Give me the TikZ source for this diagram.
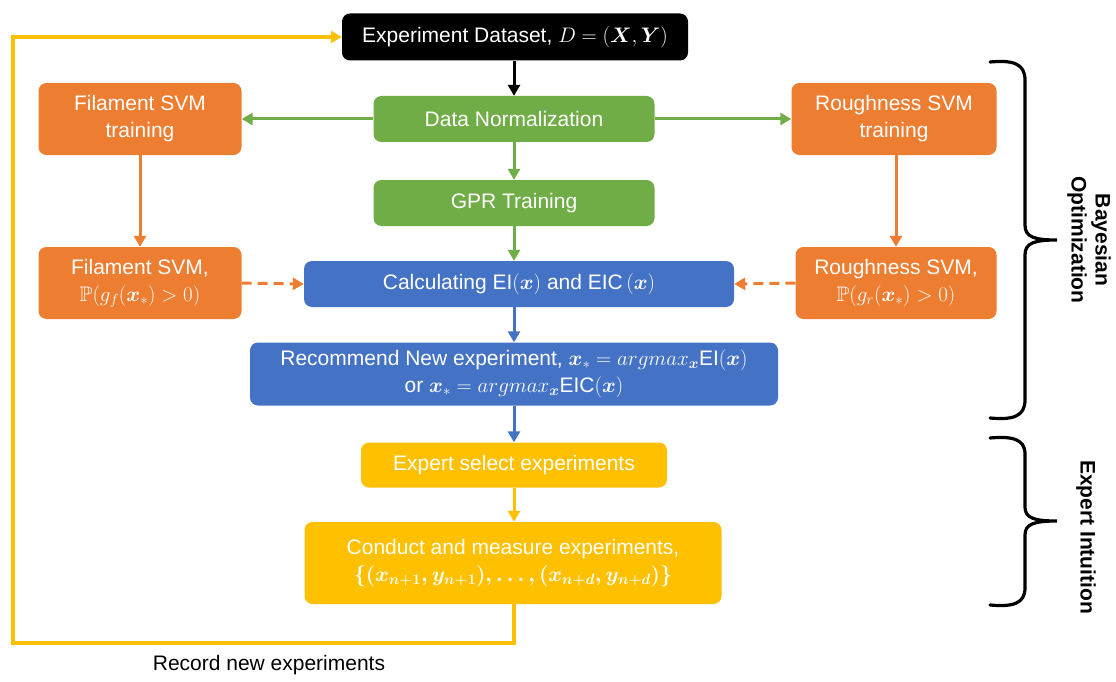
\documentclass[tikz,border=0pt]{standalone}
\usepackage{fix-cm}
\usepackage{amsmath,amssymb}
\usepackage{bm}
\usepackage{fontspec}
\setmainfont{Liberation Sans}
\usetikzlibrary{arrows.meta}
\definecolor{cgreen}{HTML}{70AD47}
\definecolor{cblue}{HTML}{4472C4}
\definecolor{corange}{HTML}{ED7D31}
\definecolor{cyellow}{HTML}{FFC000}
\tikzset{
  box/.style={rounded corners=8pt, text=white, align=center, inner sep=2pt,
    font=\fontsize{21}{27}\selectfont},
  tip/.style={-{Triangle[width=12pt,length=11pt]}},
  brace/.style={line width=3.2pt, black, line cap=round},
  side/.style={font=\bfseries\fontsize{21}{24}\selectfont, rotate=-90, align=center},
}
\begin{document}
\begin{tikzpicture}[x=1pt,y=-1pt]
\useasboundingbox (0,0) rectangle (1116,682);
% nodes
\node[box, fill=black, minimum width=346pt, minimum height=47pt] (ds) at (515,37) {Experiment Dataset, $D=(\bm{X},\bm{Y})$};
\node[box, fill=cgreen, minimum width=281pt, minimum height=46pt] (dn) at (514,119) {Data Normalization};
\node[box, fill=cgreen, minimum width=281pt, minimum height=46pt] (gpr) at (514,203) {GPR Training};
\node[box, fill=cblue, minimum width=430pt, minimum height=46pt] (calc) at (519,284) {Calculating $\mathrm{EI}(\bm{x})$ and $\mathrm{EIC}\,(\bm{x})$};
\node[box, fill=cblue, minimum width=528pt, minimum height=63pt] (rec) at (514,374) {Recommend New experiment, $\bm{x}_{*} = argmax_{\bm{x}}\mathrm{EI}(\bm{x})$\\or $\bm{x}_{*} = argmax_{\bm{x}}\mathrm{EIC}(\bm{x})$};
\node[box, fill=cyellow, minimum width=306pt, minimum height=45pt] (sel) at (514,465) {Expert select experiments};
\node[box, fill=cyellow, minimum width=417pt, minimum height=82pt] (cond) at (513,563) {Conduct and measure experiments,\\{\boldmath$\{(x_{n+1},y_{n+1}),\ldots,(x_{n+d},y_{n+d})\}$}};
\node[box, fill=corange, minimum width=203pt, minimum height=72pt] (ft) at (140,119) {Filament SVM\\training};
\node[box, fill=corange, minimum width=205pt, minimum height=72pt] (rt) at (894,119) {Roughness SVM\\training};
\node[box, fill=corange, minimum width=203pt, minimum height=72pt] (fp) at (140,283) {Filament SVM,\\$\mathbb{P}(g_f(\bm{x}_{*})>0)$};
\node[box, fill=corange, minimum width=201pt, minimum height=72pt] (rp) at (896,283) {Roughness SVM,\\$\mathbb{P}(g_r(\bm{x}_{*})>0)$};
% connectors
\begin{scope}[line width=3pt]
\draw[tip, black] (dn.north |- ds.south) -- (dn.north);
\draw[tip, cgreen] (dn.west) -- (ft.east);
\draw[tip, cgreen] (dn.east) -- (rt.west);
\draw[tip, cgreen] (dn.south) -- (gpr.north);
\draw[tip, cgreen] (gpr.south) -- (gpr.south |- calc.north);
\draw[tip, corange] (ft.south) -- (fp.north);
\draw[tip, corange] (rp.north |- rt.south) -- (rp.north);
\draw[tip, corange, dash pattern=on 10pt off 6pt] (fp.east) -- (calc.west);
\draw[tip, corange, dash pattern=on 10pt off 6pt] (rp.west) -- (calc.east);
\draw[tip, cblue] (calc.south -| rec.north) -- (rec.north);
\draw[tip, cblue] (rec.south) -- (sel.north);
\draw[tip, cyellow] (sel.south) -- (sel.south |- cond.north);
\coordinate (lb) at (13,643);
\draw[tip, cyellow, line width=3.4pt] (cond.south -| sel.south) |- (lb) |- (ds.west);
\end{scope}
\node[font=\fontsize{21}{24}\selectfont, anchor=center] (rec2) at (269,665) {Record new experiments};
% braces
\draw[brace] (990,62) .. controls (1012,60) and (1025,63) .. (1025,80) -- (1025,225)
  .. controls (1025,237) and (1034,240) .. (1057,240)
  .. controls (1034,240) and (1025,243) .. (1025,255) -- (1025,400)
  .. controls (1025,417) and (1012,420) .. (990,418);
\draw[brace] (990,438) .. controls (1012,436) and (1025,439) .. (1025,454) -- (1025,507)
  .. controls (1025,518) and (1034,521) .. (1057,521)
  .. controls (1034,521) and (1025,524) .. (1025,535) -- (1025,588)
  .. controls (1025,604) and (1012,607) .. (990,605);
\node[side] (bo) at (1089,240) {Bayesian\\Optimization};
\node[side] (ei) at (1086,537) {Expert Intuition};
\end{tikzpicture}
\end{document}
